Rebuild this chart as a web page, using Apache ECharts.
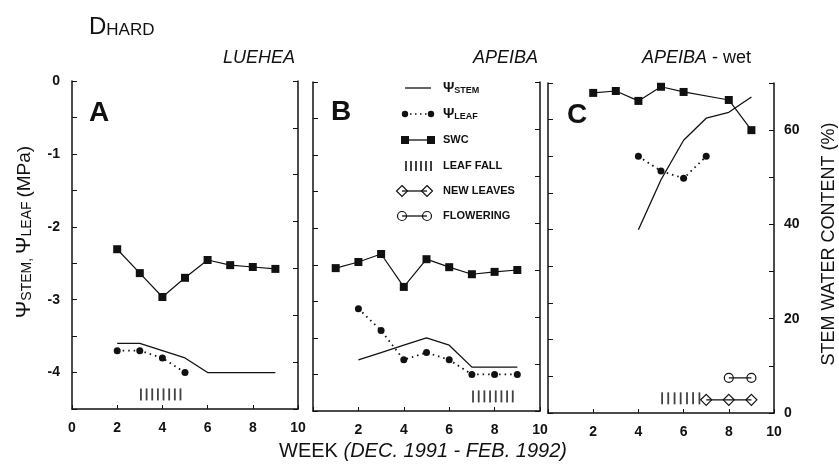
<!DOCTYPE html>
<html>
  <head>
    <meta charset="utf-8" />
    <title>DHARD - Luehea / Apeiba</title>
    <script src="https://cdn.jsdelivr.net/npm/echarts@6/dist/echarts.min.js"></script>
    <style>
      html, body { margin: 0; padding: 0; background: #fff; }
      #main { width: 839px; height: 468px; }
    </style>
  </head>
  <body>
    <div id="main"></div>
    <script>
      // x ticks / axis ranges
      var weekTicks = [0, 2, 4, 6, 8, 10]
      var psiTicks = [0, -1, -2, -3, -4]
      var swcTicks = [0, 20, 40, 60]

      // panel A - LUEHEA
      var weeksA = [2, 3, 4, 5, 6, 7, 8, 9]
      var stemA = [-3.6, -3.6, -3.7, -3.8, -4.0, -4.0, -4.0, -4.0]
      var leafWeeksA = [2, 3, 4, 5]
      var leafA = [-3.7, -3.7, -3.8, -4.0]
      var swcA = [34.1, 29.0, 23.9, 28.0, 31.8, 30.7, 30.3, 29.9]
      var leafFallA = [3.05, 3.3, 3.55, 3.8, 4.05, 4.3, 4.55, 4.8]

      // panel B - APEIBA
      var swcWeeksB = [1, 2, 3, 4, 5, 6, 7, 8, 9]
      var swcB = [30.4, 31.7, 33.4, 26.4, 32.3, 30.6, 29.1, 29.6, 30.0]
      var weeksB = [2, 3, 4, 5, 6, 7, 8, 9]
      var stemB = [-3.8, -3.7, -3.6, -3.5, -3.6, -3.9, -3.9, -3.9]
      var leafB = [-3.1, -3.4, -3.8, -3.7, -3.8, -4.0, -4.0, -4.0]
      var leafFallB = [7.05, 7.3, 7.55, 7.8, 8.05, 8.3, 8.55, 8.8]

      // panel C - APEIBA wet
      var swcWeeksC = [2, 3, 4, 5, 6, 8, 9]
      var swcC = [67.9, 68.3, 66.2, 69.2, 68.1, 66.4, 60.0]
      var stemWeeksC = [4, 5, 6, 7, 8, 9]
      var stemC = [-2.0, -1.32, -0.78, -0.48, -0.4, -0.19]
      var leafWeeksC = [4, 5, 6, 7]
      var leafC = [-1.0, -1.2, -1.3, -1.0]
      var leafFallC = [5.05, 5.32, 5.6, 5.87, 6.15, 6.42, 6.7]
      var newLeavesC = [7, 8, 9]
      var floweringC = [8, 9]

      var leafFallLevel = -4.3
      var newLeavesLevel = -4.32
      var floweringLevel = -4.02

      var FONT = '"Liberation Sans", Arial, Helvetica, sans-serif'
      var INK = '#111'

      function zip(xs, ys) {
        return xs.map(function (x, i) { return [x, ys[i]] })
      }
      function level(xs, y) {
        return xs.map(function (x) { return [x, y] })
      }

      var grids = [
        { left: 72, top: 81, width: 226, height: 328 },
        { left: 313, top: 82, width: 227, height: 329 },
        { left: 548, top: 83, width: 226, height: 330 }
      ]

      var labelStyle = { color: INK, fontFamily: FONT, fontSize: 14, fontWeight: 'bold' }
      var lineAxis = { show: true, onZero: false, lineStyle: { color: INK, width: 1.5 } }

      var xAxes = grids.map(function (g, i) {
        return {
          gridIndex: i, type: 'value', min: 0, max: 10, interval: 2,
          axisLine: lineAxis,
          axisTick: { show: true, inside: true, length: 4, lineStyle: { color: INK } },
          splitLine: { show: false },
          axisLabel: Object.assign({}, labelStyle, {
            margin: 12,
            formatter: function (v) {
              if (i > 0 && v === 0) return ''
              return weekTicks.indexOf(v) >= 0 ? String(v) : ''
            }
          })
        }
      })

      var yAxes = []
      grids.forEach(function (g, i) {
        yAxes.push({
          gridIndex: i, type: 'value', position: 'left', min: -4.5, max: 0, interval: 0.5,
          axisLine: lineAxis,
          axisTick: { show: true, inside: true, length: 5, lineStyle: { color: INK } },
          splitLine: { show: false },
          axisLabel: Object.assign({}, labelStyle, {
            show: i === 0, margin: 12,
            formatter: function (v) { return psiTicks.indexOf(v) >= 0 ? String(v) : '' }
          })
        })
        yAxes.push({
          gridIndex: i, type: 'value', position: 'right', min: 0, max: 70, interval: 10,
          axisLine: lineAxis,
          axisTick: { show: true, inside: true, length: 5, lineStyle: { color: INK } },
          splitLine: { show: false },
          axisLabel: Object.assign({}, labelStyle, {
            show: i === 2, margin: 10,
            formatter: function (v) { return swcTicks.indexOf(v) >= 0 ? String(v) : '' }
          })
        })
      })

      function stem(i, data) {
        return { type: 'line', xAxisIndex: i, yAxisIndex: i * 2, data: data, symbol: 'none',
          lineStyle: { color: INK, width: 1.3 }, z: 3 }
      }
      function leaf(i, data) {
        return { type: 'line', xAxisIndex: i, yAxisIndex: i * 2, data: data, symbol: 'circle', symbolSize: 7,
          itemStyle: { color: INK }, lineStyle: { color: INK, width: 1.8, type: [1.5, 4] }, z: 3 }
      }
      function swc(i, data) {
        return { type: 'line', xAxisIndex: i, yAxisIndex: i * 2 + 1, data: data, symbol: 'rect', symbolSize: 8,
          itemStyle: { color: INK }, lineStyle: { color: INK, width: 1.2 }, z: 3 }
      }
      function leafFall(i, xs) {
        return { type: 'scatter', xAxisIndex: i, yAxisIndex: i * 2, data: level(xs, leafFallLevel),
          symbol: 'rect', symbolSize: [1.8, 12], itemStyle: { color: INK } }
      }
      function phenology(i, xs, y, shape, size) {
        return { type: 'line', xAxisIndex: i, yAxisIndex: i * 2, data: level(xs, y),
          symbol: shape, symbolSize: size,
          itemStyle: { color: 'rgba(0,0,0,0)', borderColor: INK, borderWidth: 1.2 },
          lineStyle: { color: INK, width: 1.2 }, z: 4 }
      }

      var series = [
        stem(0, zip(weeksA, stemA)),
        leaf(0, zip(leafWeeksA, leafA)),
        swc(0, zip(weeksA, swcA)),
        leafFall(0, leafFallA),

        stem(1, zip(weeksB, stemB)),
        leaf(1, zip(weeksB, leafB)),
        swc(1, zip(swcWeeksB, swcB)),
        leafFall(1, leafFallB),

        stem(2, zip(stemWeeksC, stemC)),
        leaf(2, zip(leafWeeksC, leafC)),
        swc(2, zip(swcWeeksC, swcC)),
        leafFall(2, leafFallC),
        phenology(2, newLeavesC, newLeavesLevel, 'diamond', [11, 11]),
        phenology(2, floweringC, floweringLevel, 'circle', 9)
      ]

      // text helper
      function txt(x, y, text, st, extra) {
        var style = Object.assign({ text: text, fill: INK, font: '14px ' + FONT,
          align: 'left', verticalAlign: 'middle', textAlign: 'left', textVerticalAlign: 'middle' }, st || {})
        if (style.align) style.textAlign = style.align
        if (style.verticalAlign) style.textVerticalAlign = style.verticalAlign
        return Object.assign({ type: 'text', x: x, y: y, style: style, z: 10 }, extra || {})
      }

      var graphic = []
      // headings
      graphic.push(txt(89, 27, '{d|D}{h|HARD}', {
        rich: {
          d: { fontSize: 24, fontFamily: FONT, verticalAlign: 'bottom', fill: INK },
          h: { fontSize: 17, fontFamily: FONT, verticalAlign: 'bottom', fill: INK }
        }
      }))
      graphic.push(txt(295, 58, 'LUEHEA', { font: 'italic 18px ' + FONT, align: 'right' }))
      graphic.push(txt(538, 58, 'APEIBA', { font: 'italic 18px ' + FONT, align: 'right' }))
      graphic.push(txt(751, 58, '{i|APEIBA}{n| - wet}', {
        align: 'right',
        rich: {
          i: { fontSize: 18, fontStyle: 'italic', fontFamily: FONT, fill: INK },
          n: { fontSize: 18, fontFamily: FONT, fill: INK }
        }
      }))
      // panel letters
      graphic.push(txt(89, 113, 'A', { font: 'bold 28px ' + FONT }))
      graphic.push(txt(331, 112, 'B', { font: 'bold 28px ' + FONT }))
      graphic.push(txt(567, 115, 'C', { font: 'bold 28px ' + FONT }))

      // axis titles
      graphic.push(txt(24, 232, '{p|Ψ}{s|STEM, }{p|Ψ}{s|LEAF }{m|(MPa)}', {
        align: 'center',
        rich: {
          p: { fontSize: 21, fontFamily: FONT, fill: INK, verticalAlign: 'bottom' },
          s: { fontSize: 14, fontFamily: FONT, fill: INK, verticalAlign: 'bottom' },
          m: { fontSize: 19, fontFamily: FONT, fill: INK, verticalAlign: 'bottom' }
        }
      }, { rotation: Math.PI / 2 }))
      graphic.push(txt(829, 244, 'STEM WATER CONTENT (%)', { font: '18px ' + FONT, align: 'center' },
        { rotation: Math.PI / 2 }))
      graphic.push(txt(423, 451, '{n|WEEK }{i|(DEC. 1991 - FEB. 1992)}', {
        align: 'center',
        rich: {
          n: { fontSize: 20, fontFamily: FONT, fill: INK },
          i: { fontSize: 20, fontStyle: 'italic', fontFamily: FONT, fill: INK }
        }
      }))

      // legend (panel B)
      var lgX0 = 405, lgX1 = 431, lgText = 443
      var lgY = [88, 114, 140, 166, 191, 216]
      var thin = { stroke: INK, lineWidth: 1.3 }
      graphic.push({ type: 'line', shape: { x1: lgX0, y1: lgY[0], x2: lgX1, y2: lgY[0] }, style: thin })
      graphic.push(txt(lgText, lgY[0], '{p|Ψ}{s|STEM}', {
        rich: {
          p: { fontSize: 14, fontWeight: 'bold', fontFamily: FONT, fill: INK, verticalAlign: 'bottom' },
          s: { fontSize: 9, fontWeight: 'bold', fontFamily: FONT, fill: INK, verticalAlign: 'bottom' }
        }
      }))
      graphic.push({ type: 'line', shape: { x1: lgX0, y1: lgY[1], x2: lgX1, y2: lgY[1] },
        style: { stroke: INK, lineWidth: 1.6, lineDash: [1.5, 3.5] } })
      graphic.push({ type: 'circle', shape: { cx: lgX0, cy: lgY[1], r: 3.2 }, style: { fill: INK } })
      graphic.push({ type: 'circle', shape: { cx: lgX1, cy: lgY[1], r: 3.2 }, style: { fill: INK } })
      graphic.push(txt(lgText, lgY[1], '{p|Ψ}{s|LEAF}', {
        rich: {
          p: { fontSize: 14, fontWeight: 'bold', fontFamily: FONT, fill: INK, verticalAlign: 'bottom' },
          s: { fontSize: 9, fontWeight: 'bold', fontFamily: FONT, fill: INK, verticalAlign: 'bottom' }
        }
      }))
      graphic.push({ type: 'line', shape: { x1: lgX0, y1: lgY[2], x2: lgX1, y2: lgY[2] }, style: thin })
      graphic.push({ type: 'rect', shape: { x: lgX0 - 4, y: lgY[2] - 4, width: 8, height: 8 }, style: { fill: INK } })
      graphic.push({ type: 'rect', shape: { x: lgX1 - 4, y: lgY[2] - 4, width: 8, height: 8 }, style: { fill: INK } })
      graphic.push(txt(lgText, lgY[2], 'SWC', { font: 'bold 11px ' + FONT }))
      for (var k = 0; k < 6; k++) {
        var bx = lgX0 + 1 + k * 5
        graphic.push({ type: 'line', shape: { x1: bx, y1: lgY[3] - 5, x2: bx, y2: lgY[3] + 5 },
          style: { stroke: INK, lineWidth: 1.6 } })
      }
      graphic.push(txt(lgText, lgY[3], 'LEAF FALL', { font: 'bold 11px ' + FONT }))
      graphic.push({ type: 'line', shape: { x1: lgX0 - 3, y1: lgY[4], x2: lgX1 - 4, y2: lgY[4] }, style: thin })
      ;[lgX0 - 3, lgX1 - 4].forEach(function (cx) {
        graphic.push({ type: 'polygon',
          shape: { points: [[cx, lgY[4] - 5.5], [cx + 5.5, lgY[4]], [cx, lgY[4] + 5.5], [cx - 5.5, lgY[4]]] },
          style: { fill: 'none', stroke: INK, lineWidth: 1.2 } })
      })
      graphic.push(txt(lgText, lgY[4], 'NEW LEAVES', { font: 'bold 11px ' + FONT }))
      graphic.push({ type: 'line', shape: { x1: lgX0 - 3, y1: lgY[5], x2: lgX1 - 4, y2: lgY[5] }, style: thin })
      ;[lgX0 - 3, lgX1 - 4].forEach(function (cx) {
        graphic.push({ type: 'circle', shape: { cx: cx, cy: lgY[5], r: 4.5 },
          style: { fill: 'none', stroke: INK, lineWidth: 1.2 } })
      })
      graphic.push(txt(lgText, lgY[5], 'FLOWERING', { font: 'bold 11px ' + FONT }))

      var myChart = echarts.init(document.getElementById('main'))
      var option = {
        animation: false,
        backgroundColor: '#fff',
        grid: grids,
        xAxis: xAxes,
        yAxis: yAxes,
        series: series,
        graphic: graphic
      }
      myChart.setOption(option)
    </script>
  </body>
</html>
